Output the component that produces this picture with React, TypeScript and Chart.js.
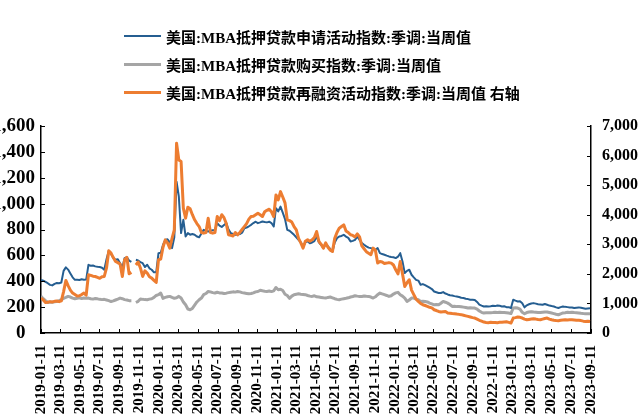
import { useEffect, useRef } from 'react';
import { Chart, registerables } from 'chart.js';

Chart.register(...registerables);

// Weekly series, first observation on START, one value per week (null = no reading)
const START = '2019-01-11';

const xTickLabels = [
  '2019-01-11', '2019-03-11', '2019-05-11', '2019-07-11', '2019-09-11', '2019-11-11',
  '2020-01-11', '2020-03-11', '2020-05-11', '2020-07-11', '2020-09-11', '2020-11-11',
  '2021-01-11', '2021-03-11', '2021-05-11', '2021-07-11', '2021-09-11', '2021-11-11',
  '2022-01-11', '2022-03-11', '2022-05-11', '2022-07-11', '2022-09-11', '2022-11-11',
  '2023-01-11', '2023-03-11', '2023-05-11', '2023-07-11', '2023-09-11',
];

const leftTicks = [0, 200, 400, 600, 800, 1000, 1200, 1400, 1600];
const rightTicks = [0, 1000, 2000, 3000, 4000, 5000, 6000, 7000];

const seriesNames = [
  '美国:MBA抵押贷款申请活动指数:季调:当周值',
  '美国:MBA抵押贷款购买指数:季调:当周值',
  '美国:MBA抵押贷款再融资活动指数:季调:当周值 右轴',
];

// 申请活动指数 (left axis)
const applicationIndex = [
  411, 405, 395, 385, 372, 368, 380, 386, 385, 390,
  480, 507, 490, 460, 430, 411, 412, 410, 415, 412,
  413, 527, 520, 522, 515, 512, 510, 505, 489, 570,
  635, 610, 580, 566, 570, 540, 505, 579, 585, 560,
  550, null, 566, 560, 548, 540, 510, 527, 500, 489,
  469, 469, 617, 620, 680, 720, 725, 700, 656, 740,
  1170, 1055, 772, 875, 746, 772, 760, 765, 760, 746,
  740, 770, 797, 790, 785, 790, 795, 797, 849, 830,
  820, 835, 849, 800, 772, 765, 759, 762, 765, 775,
  810, 815, 825, 836, 850, 860, 849, 855, 862, 858,
  855, 860, 850, 823, 965, 940, 977, 930, 880, 797,
  790, 775, 759, 740, 720, 700, 669, 700, 710, 694,
  700, 710, 746, 700, 680, 656, 690, 670, 650, 630,
  700, 733, 746, 750, 759, 745, 735, 708, 712, 720,
  746, 720, 695, 682, 670, 660, 656, 650, 643, 656,
  617, 610, 605, 598, 592, 588, 585, 579, 590, 617,
  553, 463, 480, 489, 450, 430, 411, 405, 373, 378,
  370, 360, 350, 340, 321, 315, 309, 309, 316, 305,
  298, 292, 290, 285, 282, 278, 272, 270, 265, 262,
  257, 257, 255, 240, 220, 212, 205, 207, 204, 206,
  210, 208, 213, 210, 205, 207, 200, 200, 193, 257,
  250, 244, 245, 230, 198, 214, 222, 228, 231, 227,
  222, 220, 218, 224, 218, 212, 208, 205, 198, 193,
  200, 205, 202, 200, 198, 197, 193, 196, 198, 195,
  192, 188, 190, 192,
];

// 购买指数 (left axis)
const purchaseIndex = [
  283, 265, 250, 236, 240, 238, 242, 243, 250, 258,
  268, 275, 283, 278, 270, 265, 268, 272, 266, 270,
  268, 270, 265, 262, 266, 264, 260, 258, 260, 255,
  250, 243, 248, 255, 262, 270, 265, 258, 255, 250,
  250, null, 236, 245, 263, 260, 258, 257, 262, 265,
  275, 290, 296, 309, 268, 275, 280, 283, 275, 268,
  272, 283, 270, 240, 218, 185, 180, 190, 215, 240,
  257, 270, 296, 305, 321, 318, 312, 309, 315, 310,
  309, 305, 308, 312, 315, 318, 316, 321, 318, 312,
  309, 306, 303, 305, 310, 318, 321, 330, 326, 323,
  321, 324, 320, 326, 352, 334, 338, 328, 300, 290,
  268, 285, 296, 300, 303, 300, 298, 296, 290, 285,
  283, 288, 280, 278, 275, 272, 270, 275, 278, 272,
  265, 260, 257, 262, 265, 268, 272, 278, 282, 288,
  285, 283, 282, 286, 284, 283, 278, 270, 280, 296,
  309, 302, 296, 290, 283, 288, 301, 310, 314, 296,
  285, 270, 244, 255, 270, 270, 262, 257, 244, 246,
  244, 240, 231, 225, 218, 220, 218, 230, 244, 238,
  231, 220, 205, 207, 204, 205, 203, 200, 197, 193,
  195, 194, 193, 185, 170, 160, 154, 156, 157, 157,
  158, 160, 159, 160, 158, 159, 157, 154, 150, 193,
  195, 193, 185, 160, 149, 158, 162, 165, 162, 160,
  158, 158, 160, 162, 162, 158, 154, 150, 145, 141,
  148, 155, 157, 160, 158, 160, 158, 157, 155, 152,
  150, 149, 148, 149,
];

// 再融资活动指数 (right axis)
const refinanceIndex = [
  1182, 1120, 1034, 1040, 1060, 1050, 1070, 1080, 1060, 1090,
  1400, 1777, 1600, 1450, 1351, 1300, 1250, 1260, 1300, 1351,
  1280, 1969, 1950, 1920, 1911, 1880, 1850, 1900, 1911, 2200,
  2779, 2700, 2550, 2418, 2380, 2330, 1911, 2480, 2560, 2000,
  2050, null, 2300, 2400, 2200, 1911, 2100, 2026, 1900, 1857,
  1780, 1710, 2476, 2500, 2900, 3151, 3050, 2870, 3200, 3488,
  6416, 5852, 5800, 4221, 3884, 4255, 4200, 4000, 3827, 3700,
  3600, 3400, 3377, 3400, 3884, 3400, 3377, 3400, 3940, 3800,
  4000, 3900, 3700, 3320, 3300, 3280, 3400, 3320, 3400, 3500,
  3600, 3700, 3850, 3940, 3950, 4000, 4052, 4000, 3940, 4100,
  4150, 4187, 4100, 3940, 4670, 4500, 4782, 4600, 4400, 3827,
  3800, 3750, 3600, 3488, 3200, 3050, 2870, 3100, 3150, 3100,
  3150, 3230, 3432, 3100, 3000, 2870, 3050, 2900, 2800, 2757,
  3200, 3400, 3545, 3600, 3657, 3450, 3400, 3320, 3300, 3250,
  3350, 3250, 2950, 2850, 2750, 2700, 2650, 2870, 2800, 2364,
  2420, 2400, 2350, 2364, 2380, 2364, 2300, 2138, 2000, 2420,
  2000, 1575, 1700, 1800, 1450, 1300, 1150, 1067, 1000, 956,
  930, 900, 870, 850, 787, 760, 729, 710, 720, 729,
  680, 670, 660, 652, 640, 630, 620, 600, 580, 561,
  540, 520, 506, 470, 430, 400, 370, 358, 350, 360,
  355, 358, 350, 360, 365, 372, 380, 360, 338, 506,
  520, 540, 530, 506, 470, 449, 460, 470, 480, 470,
  455, 449, 470, 490, 506, 470, 449, 430, 420, 415,
  430, 440, 449, 440, 445, 449, 440, 430, 430, 420,
  400, 392, 400, 392,
];

const BLUE = '#255E91';
const GRAY = '#A5A5A5';
const ORANGE = '#ED7D31';
const legendColors = [BLUE, GRAY, ORANGE];
const legendThickness = [2, 3, 3];

const SERIF = '"Liberation Serif", "Times New Roman", serif';

function dayOffset(iso: string): number {
  const [y, m, d] = iso.split('-').map(Number);
  const [y0, m0, d0] = START.split('-').map(Number);
  return Math.round((Date.UTC(y, m - 1, d) - Date.UTC(y0, m0 - 1, d0)) / 86400000);
}

const toPoints = (arr: (number | null)[]) => arr.map((v, i) => ({ x: i * 7, y: v }));

const labelByDay: Record<number, string> = {};
xTickLabels.forEach((l) => {
  labelByDay[dayOffset(l)] = l;
});

// Short tick marks drawn on the inner side of each axis line
const innerTicks = {
  id: 'innerTicks',
  afterDraw(chart: any) {
    const { ctx, chartArea, scales } = chart;
    const len = 4;
    ctx.save();
    ctx.strokeStyle = '#000';
    ctx.lineWidth = 1;
    scales.x.ticks.forEach((t: any) => {
      const px = Math.round(scales.x.getPixelForValue(t.value)) + 0.5;
      ctx.beginPath();
      ctx.moveTo(px, chartArea.bottom);
      ctx.lineTo(px, chartArea.bottom - len);
      ctx.stroke();
    });
    scales.y.ticks.forEach((t: any) => {
      const py = Math.round(scales.y.getPixelForValue(t.value)) + 0.5;
      ctx.beginPath();
      ctx.moveTo(chartArea.left, py);
      ctx.lineTo(chartArea.left + len, py);
      ctx.stroke();
    });
    scales.y1.ticks.forEach((t: any) => {
      const py = Math.round(scales.y1.getPixelForValue(t.value)) + 0.5;
      ctx.beginPath();
      ctx.moveTo(chartArea.right, py);
      ctx.lineTo(chartArea.right - len, py);
      ctx.stroke();
    });
    ctx.restore();
  },
};

export default function App() {
  const canvasRef = useRef<HTMLCanvasElement | null>(null);

  useEffect(() => {
    if (!canvasRef.current) return;
    const axisBorder = { display: true, color: '#000', width: 1.5 };
    const hiddenGrid = { display: true, drawOnChartArea: false, drawTicks: false };

    const chart = new Chart(canvasRef.current, {
      type: 'line',
      data: {
        datasets: [
          {
            label: seriesNames[2],
            data: toPoints(refinanceIndex),
            yAxisID: 'y1',
            borderColor: ORANGE,
            borderWidth: 3,
            order: 0,
          },
          {
            label: seriesNames[0],
            data: toPoints(applicationIndex),
            yAxisID: 'y',
            borderColor: BLUE,
            borderWidth: 2,
            order: 1,
          },
          {
            label: seriesNames[1],
            data: toPoints(purchaseIndex),
            yAxisID: 'y',
            borderColor: GRAY,
            borderWidth: 3,
            order: 2,
          },
        ],
      },
      options: {
        animation: false,
        responsive: false,
        spanGaps: false,
        layout: { padding: { top: 126, left: 0, right: 0, bottom: 0 } },
        elements: {
          point: { radius: 0, hoverRadius: 0 },
          line: { tension: 0, borderJoinStyle: 'round', borderCapStyle: 'butt' },
        },
        plugins: { legend: { display: false }, tooltip: { enabled: false } },
        scales: {
          x: {
            type: 'linear',
            min: 0,
            max: dayOffset(xTickLabels[xTickLabels.length - 1]),
            afterBuildTicks: (s: any) => {
              s.ticks = xTickLabels.map((l) => ({ value: dayOffset(l) }));
            },
            afterFit: (s: any) => {
              s.height = 84;
            },
            grid: hiddenGrid,
            border: axisBorder,
            ticks: {
              autoSkip: false,
              minRotation: 90,
              maxRotation: 90,
              padding: 12,
              color: '#000',
              font: { family: SERIF, size: 15, weight: 'bold' },
              callback: (v: any) => labelByDay[v] ?? '',
            },
          },
          y: {
            position: 'left',
            min: 0,
            max: 1600,
            afterBuildTicks: (s: any) => {
              s.ticks = leftTicks.map((v) => ({ value: v }));
            },
            afterFit: (s: any) => {
              s.width = 41;
            },
            grid: hiddenGrid,
            border: axisBorder,
            ticks: {
              padding: 6,
              color: '#000',
              font: { family: SERIF, size: 19, weight: 'bold' },
              callback: (v: any) => (v === 0 ? '0  ' : Number(v).toLocaleString('en-US')),
            },
          },
          y1: {
            position: 'right',
            min: 0,
            max: 7000,
            afterBuildTicks: (s: any) => {
              s.ticks = rightTicks.map((v) => ({ value: v }));
            },
            afterFit: (s: any) => {
              s.width = 47;
            },
            grid: hiddenGrid,
            border: axisBorder,
            ticks: {
              padding: 11,
              color: '#000',
              font: { family: SERIF, size: 16, weight: 'bold' },
              callback: (v: any) => Number(v).toLocaleString('en-US'),
            },
          },
        },
      },
      plugins: [innerTicks],
    } as any);

    return () => chart.destroy();
  }, []);

  return (
    <div style={{ position: 'fixed', left: 0, top: 0, width: 638, height: 417, background: '#fff' }}>
      <canvas ref={canvasRef} width={638} height={417} style={{ display: 'block' }} />
      <div style={{ position: 'absolute', left: 124, top: 22 }}>
        {seriesNames.map((name, i) => (
          <div key={name} style={{ display: 'flex', alignItems: 'center', height: 28.3 }}>
            <span
              style={{
                display: 'inline-block',
                width: 37,
                height: legendThickness[i],
                background: legendColors[i],
                marginRight: 5,
              }}
            />
            <span
              style={{
                font: `bold 15px ${'"Liberation Serif", "Noto Sans CJK SC", serif'}`,
                color: '#000',
                whiteSpace: 'nowrap',
              }}
            >
              {name}
            </span>
          </div>
        ))}
      </div>
    </div>
  );
}
